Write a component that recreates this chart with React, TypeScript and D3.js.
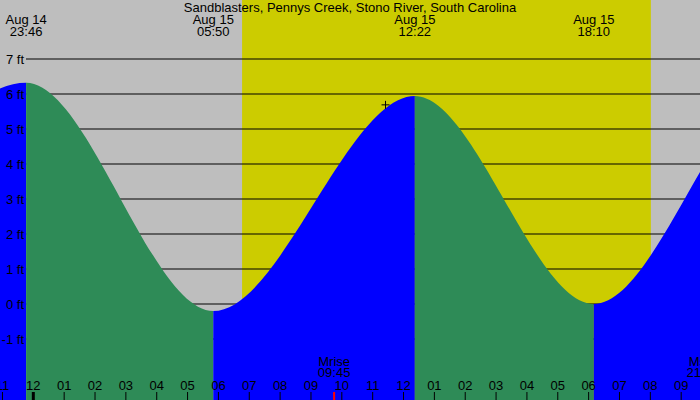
import React from 'react';
import * as d3 from 'd3';

// tide extremes (first and last are just off the picture, keep the curve shape right at the edges)
const tideDays = ['Aug 14', 'Aug 14', 'Aug 15', 'Aug 15', 'Aug 15', 'Aug 16', 'Aug 16'];
const tideTimes = ['17:25', '23:46', '05:50', '12:22', '18:10', '00:15', '06:25'];
const tideFeet = [-0.15, 6.32, -0.2, 5.94, 0.0, 6.3, -0.2];

const sunTimes = ['06:46', '20:01'];
const moonLabels = ['Mrise', 'Mset'];
const moonTimes = ['09:45', '21:42'];

// "now" marker
const markerTime = ['11:25'];
const markerFeet = [5.69];

const feetTicks = [-1, 0, 1, 2, 3, 4, 5, 6, 7];
const hourTicks = d3.range(-1, 22);

const title = 'Sandblasters, Pennys Creek, Stono River, South Carolina';

const W = 700;
const H = 400;
const FONT = '"Liberation Sans", Arial, sans-serif';

const toHours = (day: string, time: string) => {
  const dayOff = (parseInt(day.split(' ')[1], 10) - 15) * 24;
  const [hh, mm] = time.split(':').map(Number);
  return dayOff + hh + mm / 60;
};

const App: React.FC = () => {
  const x = d3.scaleLinear().domain([-1.08, 21.61]).range([0, W]);
  const y = d3.scaleLinear().domain([-1, 7]).range([339, 59]);

  const pts: [number, number][] = tideTimes.map((t, i) => [toHours(tideDays[i], t), tideFeet[i]]);

  const area = d3.area<[number, number]>()
    .x(d => x(d[0]))
    .y0(H)
    .y1(d => y(d[1]))
    .curve(d3.curveMonotoneX);
  const areaPath = area(pts) || '';

  const sunX0 = x(toHours('Aug 15', sunTimes[0]));
  const sunX1 = x(toHours('Aug 15', sunTimes[1]));

  const mx = x(toHours('Aug 15', markerTime[0]));
  const my = y(markerFeet[0]);

  const hourLabel = (h: number) => {
    const v = ((h % 12) + 12) % 12;
    return String(v === 0 ? 12 : v).padStart(2, '0');
  };

  return (
    <div style={{ position: 'fixed', left: 0, top: 0 }}>
      <svg width={W} height={H} style={{ display: 'block', fontFamily: FONT }}>
        <defs>
          {pts.slice(0, -1).map((p, i) => (
            <clipPath id={`seg${i}`} key={i}>
              <rect x={x(p[0])} y={0} width={x(pts[i + 1][0]) - x(p[0])} height={H} />
            </clipPath>
          ))}
        </defs>

        <rect x={0} y={0} width={W} height={H} fill="#bebebe" />
        <rect x={sunX0} y={0} width={sunX1 - sunX0} height={H} fill="#cccc00" />

        {feetTicks.map(f => (
          <line key={f} x1={26} x2={W} y1={y(f)} y2={y(f)} stroke="#000" strokeWidth={1} />
        ))}

        {pts.slice(0, -1).map((p, i) => (
          <path
            key={i}
            d={areaPath}
            clipPath={`url(#seg${i})`}
            fill={pts[i + 1][1] > p[1] ? '#0000ff' : '#2e8b57'}
          />
        ))}

        {feetTicks.map(f => (
          <text key={f} x={24} y={y(f) + 4.5} fontSize={13} textAnchor="end" fill="#000">
            {`${f} ft`}
          </text>
        ))}

        <text x={W / 2} y={12} fontSize={13} textAnchor="middle" fill="#000">{title}</text>

        {pts.map((p, i) => {
          const px = x(p[0]);
          if (px < -20 || px > W + 20) return null;
          return (
            <g key={i}>
              <text x={px} y={24} fontSize={13} textAnchor="middle">{tideDays[i]}</text>
              <text x={px} y={36} fontSize={13} textAnchor="middle">{tideTimes[i]}</text>
            </g>
          );
        })}

        {hourTicks.map(h => (
          <g key={h}>
            <line
              x1={x(h)} x2={x(h)} y1={392} y2={H}
              stroke="#000" strokeWidth={h === 0 ? 3 : 1}
            />
            <text x={x(h)} y={390} fontSize={13} textAnchor="middle">{hourLabel(h)}</text>
          </g>
        ))}

        {moonTimes.map((t, i) => {
          const px = x(toHours('Aug 15', t));
          return (
            <g key={i}>
              <line x1={px} x2={px} y1={392} y2={H} stroke="#ff0000" strokeWidth={2} />
              <text x={px} y={366} fontSize={13} textAnchor="middle">{moonLabels[i]}</text>
              <text x={px} y={377} fontSize={13} textAnchor="middle">{t}</text>
            </g>
          );
        })}

        <line x1={mx - 4} x2={mx + 4} y1={my} y2={my} stroke="#000" strokeWidth={1} />
        <line x1={mx} x2={mx} y1={my - 4} y2={my + 4} stroke="#000" strokeWidth={1} />
      </svg>
    </div>
  );
};

export default App;
